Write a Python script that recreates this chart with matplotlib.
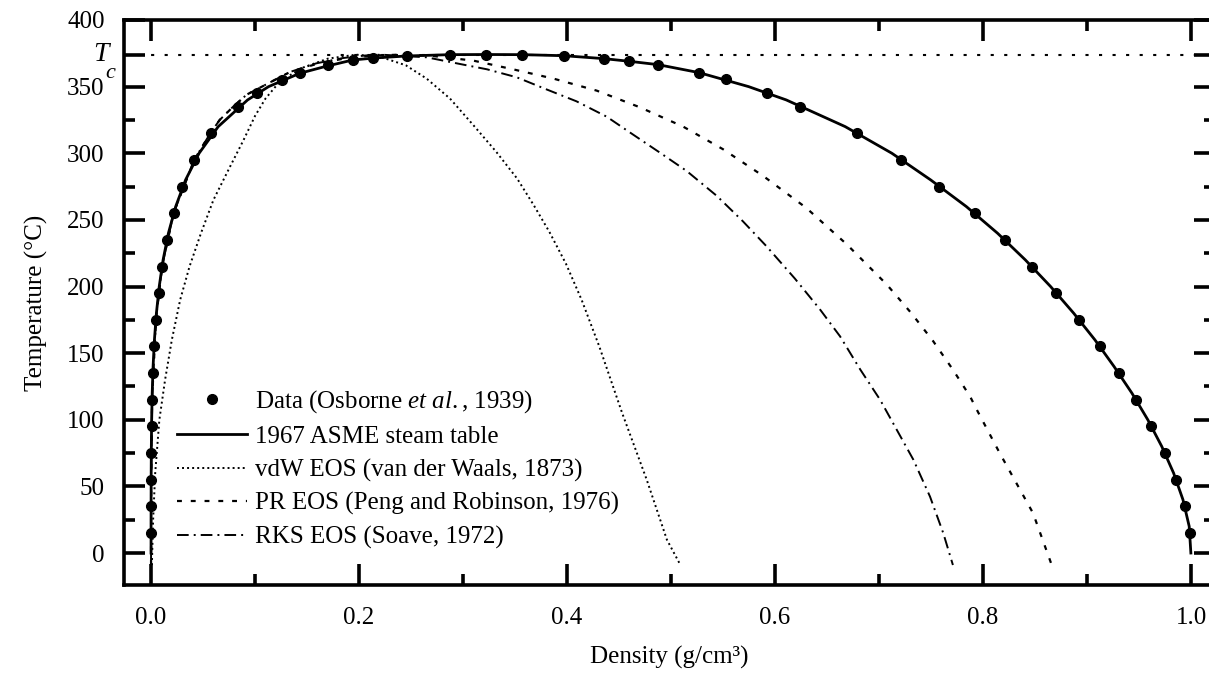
import matplotlib
matplotlib.use('Agg')
import matplotlib.pyplot as plt
import matplotlib.transforms as mtransforms

plt.rcParams['font.family'] = ['Liberation Serif', 'DejaVu Serif']
plt.rcParams['mathtext.fontset'] = 'custom'
plt.rcParams['mathtext.rm'] = 'Liberation Serif'
plt.rcParams['mathtext.it'] = 'Liberation Serif:italic'

# critical temperature (C)
Tc = 374.0

# Osborne et al. (1939) data points (density g/cm3, temperature C)
osb_rho = [0.0000128, 0.0000396, 0.000104, 0.000242, 0.000505, 0.00097, 0.00173, 0.00292,
           0.0047, 0.0072, 0.0106, 0.0153, 0.0216, 0.030, 0.0415, 0.058, 0.084, 0.1015,
           0.126, 0.143, 0.170, 0.194, 0.213, 0.246,
           0.2875, 0.322, 0.357,
           0.397, 0.4356, 0.46, 0.4875, 0.527, 0.553, 0.592, 0.624, 0.679, 0.721, 0.758,
           0.792, 0.8207, 0.8467, 0.8705, 0.8922, 0.9122, 0.9304, 0.947, 0.9619, 0.9749,
           0.9857, 0.994, 0.9991]
osb_T = [15, 35, 55, 75, 95, 115, 135, 155,
         175, 195, 215, 235, 255, 275, 295, 315, 335, 345,
         355, 360, 366, 370, 371.5, 373,
         374, 374, 374,
         373.2, 371, 369, 366.5, 360.5, 356, 345.5, 335, 315, 295, 275,
         255, 235, 215, 195, 175, 155, 135, 115, 95, 75,
         55, 35, 15]

# 1967 ASME steam table
asme_rho = [0.0000049, 0.0000173, 0.0000512, 0.00013, 0.00029, 0.0006, 0.00112, 0.00197,
            0.00326, 0.00516, 0.00787, 0.0116, 0.0167, 0.0237, 0.0332, 0.0462, 0.0646,
            0.0928, 0.113, 0.143, 0.167, 0.194, 0.215, 0.246, 0.2875, 0.322, 0.357,
            0.397, 0.4356, 0.46, 0.4875, 0.527, 0.5746, 0.6108, 0.6674, 0.7123, 0.7496,
            0.7839, 0.8139, 0.8406, 0.8649, 0.8871, 0.9075, 0.9259, 0.9431, 0.9584,
            0.9718, 0.9832, 0.9922, 0.9982, 0.9998]
asme_T = [0, 20, 40, 60, 80, 100, 120, 140,
          160, 180, 200, 220, 240, 260, 280, 300, 320,
          340, 350, 360, 365, 370, 371.5, 373, 374, 374.1, 374,
          373.2, 371, 369, 366.5, 360.5, 350, 340, 320, 300, 280,
          260, 240, 220, 200, 180, 160, 140, 120, 100,
          80, 60, 40, 20, 0]

# van der Waals EOS
vdw_rho = [0.0008, 0.002, 0.004, 0.008, 0.0135, 0.020, 0.028, 0.037, 0.048, 0.060, 0.076,
           0.089, 0.100, 0.110, 0.124, 0.145, 0.170, 0.197,
           0.22, 0.245, 0.265, 0.2875, 0.31, 0.332, 0.352, 0.368, 0.383, 0.399, 0.414,
           0.431, 0.453, 0.4766, 0.496, 0.509]
vdw_T = [-9, 25, 60, 100, 130, 160, 190, 215, 240, 265, 290,
         310, 328, 341, 354, 364, 371, 374,
         372.5, 366, 356, 341, 321, 301, 281, 261, 241, 217, 190,
         155, 105, 55, 10, -9]

# Peng-Robinson EOS
pr_rho = [0.000004, 0.0001, 0.001, 0.0047, 0.0106, 0.0216, 0.0415, 0.057, 0.066, 0.079,
          0.092, 0.114, 0.1337, 0.159, 0.185, 0.212, 0.24,
          0.265, 0.31, 0.348, 0.387, 0.4285, 0.470, 0.5116, 0.550, 0.5885, 0.630, 0.669,
          0.7074, 0.731, 0.752, 0.771, 0.7875, 0.795, 0.816, 0.848, 0.866]
pr_T = [-9, 55, 115, 175, 215, 255, 295, 315, 325, 335,
        344, 353, 361, 367, 371, 373.3, 374,
        373.5, 369.5, 363, 356, 347, 334.5, 320, 303, 283, 259, 231.6,
        201.5, 180, 159, 137.6, 117.5, 106, 75, 30, -9]

# Redlich-Kwong-Soave EOS
rks_rho = [0.000004, 0.0001, 0.001, 0.0047, 0.0106, 0.0216, 0.0415, 0.057, 0.066, 0.079,
           0.092, 0.114, 0.1337, 0.159, 0.185, 0.205, 0.221,
           0.265, 0.297, 0.323, 0.3516, 0.380, 0.409, 0.438, 0.4635, 0.489, 0.515, 0.544,
           0.569, 0.592, 0.619, 0.643, 0.6625, 0.682, 0.701, 0.717, 0.733, 0.749, 0.7617,
           0.771]
rks_T = [-9, 55, 115, 175, 215, 255, 295, 315, 325, 335,
         344, 353, 361, 367.5, 371.5, 373.3, 374,
         372, 367, 363, 357, 348, 339, 327.5, 314, 300.6, 286.7, 268,
         249, 230, 206, 183, 162.6, 137.6, 115, 92.5, 70, 42.3, 15,
         -9]

fig = plt.figure(figsize=(12.09, 6.73), dpi=100)
ax = fig.add_axes([124 / 1209, 1 - 585 / 673, (1215 - 124) / 1209, (585 - 20) / 673])

ax.axhline(Tc, color='black', lw=1.5, linestyle=(0, (1.5, 5)))
ax.plot(osb_rho, osb_T, 'o', color='black', ms=7, label='Data (Osborne $\\mathit{et\\ al.}$, 1939)')
ax.plot(asme_rho, asme_T, '-', color='black', lw=2.0, label='1967 ASME steam table')
ax.plot(vdw_rho, vdw_T, color='black', lw=1.4, linestyle=(0, (1, 1.6)),
        label='vdW EOS (van der Waals, 1873)')
ax.plot(pr_rho, pr_T, color='black', lw=1.6, linestyle=(0, (2.2, 4)),
        label='PR EOS (Peng and Robinson, 1976)')
ax.plot(rks_rho, rks_T, color='black', lw=1.4, linestyle=(0, (6, 2.6, 1, 2.6)),
        label='RKS EOS (Soave, 1972)')

ax.set_xlim(-0.026, 1.023)
ax.set_ylim(-24, 400)

ax.set_xticks([0.0, 0.2, 0.4, 0.6, 0.8, 1.0])
ax.set_xticklabels(['0.0', '0.2', '0.4', '0.6', '0.8', '1.0'])
ax.set_xticks([0.1, 0.3, 0.5, 0.7, 0.9], minor=True)
ax.set_yticks([0, 50, 100, 150, 200, 250, 300, 350, Tc, 400])
ax.set_yticklabels(['0', '50', '100', '150', '200', '250', '300', '350', '', '400'])
ax.set_yticks([25, 75, 125, 175, 225, 275, 325], minor=True)

ax.tick_params(which='both', direction='in', top=True, right=True, labelsize=18, width=2.6)
ax.tick_params(which='major', length=15)
ax.tick_params(which='minor', length=8)
ax.tick_params(axis='x', which='major', pad=16)
ax.tick_params(axis='y', which='major', pad=14)
for sp in ax.spines.values():
    sp.set_linewidth(2.6)

# T_c label on the left axis
blend = mtransforms.blended_transform_factory(ax.transAxes, ax.transData)
ax.text(-0.0145, Tc, 'T', transform=blend, ha='right', va='center', fontsize=20, style='italic')
ax.text(-0.0085, 360, 'c', transform=blend, ha='right', va='center', fontsize=16, style='italic')

ax.set_xlabel('Density (g/cm³)', fontsize=18, labelpad=12)
ax.set_ylabel('Temperature (°C)', fontsize=18, labelpad=14)

ax.legend(loc='upper left', bbox_to_anchor=(0.049, 0.348), frameon=False, fontsize=18,
          handlelength=2.8, handletextpad=0.3, labelspacing=0.42, borderpad=0, borderaxespad=0)

fig.savefig('out.png', dpi=100)
